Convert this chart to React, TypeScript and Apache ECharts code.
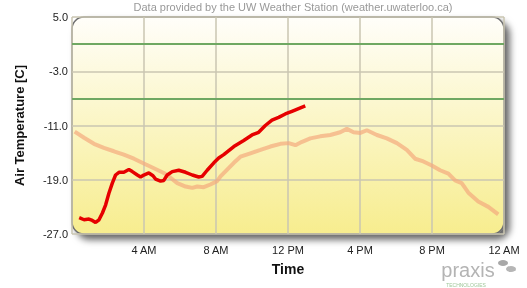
import React, { useEffect, useRef } from "react";
import * as echarts from "echarts";

const titleText = "Data provided by the UW Weather Station (weather.uwaterloo.ca)";
const yAxisName = "Air Temperature [C]";
const xAxisName = "Time";
const xTickLabels = ["", "4 AM", "8 AM", "12 PM", "4 PM", "8 PM", "12 AM"];
const yMin = -27;
const yMax = 5;
const yStep = 8;
const limitLines = [1, -7];

const todayHours = [0.4, 0.67, 0.94, 1.13, 1.31, 1.5, 1.69, 1.87, 2.05, 2.24, 2.42, 2.61, 2.88, 3.16, 3.35, 3.63, 3.81, 3.99, 4.27, 4.5, 4.64, 4.92, 5.1, 5.29, 5.57, 5.93, 6.31, 6.68, 7.04, 7.23, 7.51, 7.88, 8.15, 8.43, 8.99, 9.54, 10.0, 10.37, 10.74, 11.11, 11.48, 11.85, 12.22, 12.59, 12.96];
const todayTemps = [-24.6, -24.9, -24.8, -25.0, -25.3, -24.9, -23.9, -22.7, -21.0, -19.5, -18.3, -17.9, -17.9, -17.5, -17.8, -18.3, -18.6, -18.3, -18.0, -18.4, -18.9, -19.2, -19.1, -18.3, -17.8, -17.6, -17.9, -18.3, -18.6, -18.5, -17.6, -16.5, -15.8, -15.3, -14.1, -13.2, -12.4, -12.0, -11.0, -10.2, -9.8, -9.3, -8.9, -8.5, -8.1];

const prevHours = [0.15, 0.67, 1.22, 1.77, 2.33, 2.88, 3.44, 3.99, 4.55, 5.1, 5.47, 5.85, 6.31, 6.68, 6.96, 7.32, 7.69, 8.06, 8.25, 8.62, 8.99, 9.36, 9.91, 10.47, 11.02, 11.58, 12.04, 12.41, 12.78, 13.24, 13.79, 14.35, 14.9, 15.27, 15.64, 16.02, 16.38, 16.94, 17.49, 18.05, 18.6, 19.06, 19.52, 19.99, 20.45, 20.91, 21.28, 21.65, 22.02, 22.57, 23.13, 23.68];
const prevTemps = [-11.9, -12.8, -13.7, -14.3, -14.8, -15.3, -15.9, -16.6, -17.3, -18.0, -18.7, -19.5, -20.0, -20.2, -20.0, -20.1, -19.7, -19.2, -18.5, -17.5, -16.5, -15.6, -15.1, -14.6, -14.1, -13.7, -13.6, -13.9, -13.4, -12.9, -12.6, -12.4, -12.0, -11.5, -12.0, -12.1, -11.7, -12.4, -12.9, -13.6, -14.6, -15.9, -16.3, -16.9, -17.6, -18.1, -19.1, -19.5, -20.9, -22.2, -23.0, -24.1];

const GL = 72, GT = 17, GW = 432, GH = 217;

export default function App() {
  const ref = useRef<HTMLDivElement>(null);
  useEffect(() => {
    if (!ref.current) return;
    const chart = echarts.init(ref.current, null, { renderer: "svg" });
    const font = "Liberation Sans, Arial, sans-serif";
    chart.setOption({
      animation: false,
      grid: { left: GL, top: GT, width: GW, height: GH },
      graphic: [
        {
          type: "rect",
          z: -10,
          shape: { x: GL, y: GT, width: GW, height: GH, r: 12 },
          style: {
            fill: new echarts.graphic.LinearGradient(0, 0, 0, 1, [
              { offset: 0, color: "#fffefa" },
              { offset: 1, color: "#f7ed8e" },
            ]),
            stroke: "#6e6e6e",
            lineWidth: 1.5,
            shadowBlur: 7,
            shadowOffsetX: 5,
            shadowOffsetY: 5,
            shadowColor: "rgba(0,0,0,0.6)",
          },
        },
        {
          type: "text",
          x: 293,
          y: 1,
          style: { text: titleText, fill: "#999", font: `11px ${font}`, align: "center", verticalAlign: "top" },
        },
        {
          type: "text",
          x: 468,
          y: 270,
          style: { text: "praxis", fill: "#b4b4b4", font: `20px ${font}`, align: "center", verticalAlign: "middle" },
        },
        {
          type: "text",
          x: 466,
          y: 285,
          style: { text: "TECHNOLOGIES", fill: "#9fc79a", font: `5px ${font}`, align: "center", verticalAlign: "middle" },
        },
        {
          type: "ellipse",
          shape: { cx: 503, cy: 263, rx: 5, ry: 3 },
          style: { fill: "#a8a8a8" },
        },
        {
          type: "ellipse",
          shape: { cx: 511, cy: 269, rx: 5, ry: 3 },
          style: { fill: "#b6b6b6" },
        },
      ],
      xAxis: {
        type: "value",
        min: 0,
        max: 24,
        interval: 4,
        name: xAxisName,
        nameLocation: "middle",
        nameGap: 28,
        nameTextStyle: { fontFamily: font, fontSize: 14, fontWeight: "bold", color: "#111" },
        axisLine: { show: false },
        axisTick: { show: false },
        axisLabel: {
          color: "#222",
          fontFamily: font,
          fontSize: 11,
          margin: 10,
          formatter: (v: number) => xTickLabels[Math.round(v / 4)] ?? "",
        },
        splitLine: { show: true, lineStyle: { color: "#cac6b2", width: 1.5 } },
      },
      yAxis: {
        type: "value",
        min: yMin,
        max: yMax,
        interval: yStep,
        name: yAxisName,
        nameLocation: "middle",
        nameGap: 46,
        nameTextStyle: { fontFamily: font, fontSize: 13, fontWeight: "bold", color: "#111" },
        axisLine: { show: false },
        axisTick: { show: false },
        axisLabel: {
          color: "#222",
          fontFamily: font,
          fontSize: 11,
          margin: 4,
          formatter: (v: number) => v.toFixed(1),
        },
        splitLine: { show: true, lineStyle: { color: "#cac6b2", width: 1.5 } },
      },
      series: [
        {
          type: "line",
          data: prevHours.map((h, i) => [h, prevTemps[i]]),
          showSymbol: false,
          lineStyle: { color: "rgba(244,170,125,0.7)", width: 4 },
          itemStyle: { color: "rgba(244,170,125,0.7)" },
          z: 2,
          markLine: {
            silent: true,
            symbol: "none",
            label: { show: false },
            lineStyle: { color: "#6fa862", width: 2, type: "solid" },
            data: limitLines.map((v) => ({ yAxis: v })),
          },
        },
        {
          type: "line",
          data: todayHours.map((h, i) => [h, todayTemps[i]]),
          showSymbol: false,
          lineStyle: { color: "#e60000", width: 3.5 },
          itemStyle: { color: "#e60000" },
          z: 3,
        },
      ],
    });
    return () => chart.dispose();
  }, []);
  return <div ref={ref} style={{ position: "fixed", left: 0, top: 0, width: 527, height: 288 }} />;
}
